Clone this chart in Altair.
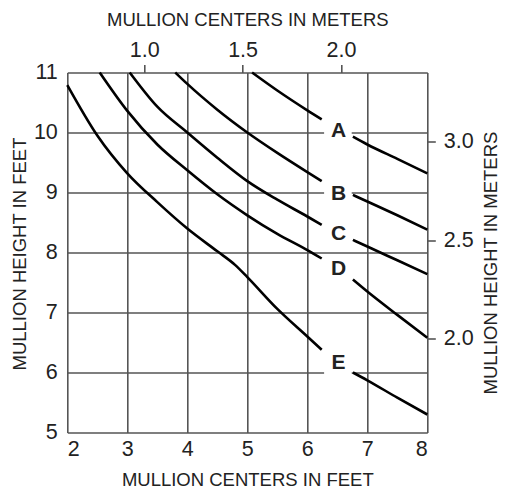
import altair as alt
import pandas as pd

FT_PER_M = 3.2808

# Axis ticks
x_ticks_ft = [2, 3, 4, 5, 6, 7, 8]
y_ticks_ft = [5, 6, 7, 8, 9, 10, 11]
top_ticks_m = [1.0, 1.5, 2.0]
right_ticks_m = [2.0, 2.5, 3.0]

# Curves, each split in two around its label
curve_names = ["A", "B", "C", "D", "E"]
A_left_x = [5.08, 5.5, 6.0, 6.24]
A_left_y = [11.0, 10.70, 10.37, 10.22]
A_right_x = [6.76, 7.0, 7.5, 8.0]
A_right_y = [9.93, 9.80, 9.56, 9.32]

B_left_x = [3.8, 4.0, 4.5, 5.0, 5.5, 6.0, 6.24]
B_left_y = [11.0, 10.81, 10.38, 10.0, 9.66, 9.34, 9.19]
B_right_x = [6.76, 7.0, 7.5, 8.0]
B_right_y = [8.96, 8.85, 8.62, 8.38]

C_left_x = [3.04, 3.5, 4.0, 4.5, 5.0, 5.5, 6.0, 6.24]
C_left_y = [11.0, 10.43, 10.0, 9.58, 9.19, 8.88, 8.6, 8.46]
C_right_x = [6.76, 7.0, 7.5, 8.0]
C_right_y = [8.21, 8.1, 7.87, 7.64]

D_left_x = [2.54, 3.0, 3.5, 4.0, 4.5, 5.0, 5.5, 6.0, 6.24]
D_left_y = [11.0, 10.36, 9.8, 9.37, 8.97, 8.62, 8.31, 8.04, 7.9]
D_right_x = [6.76, 7.0, 7.5, 8.0]
D_right_y = [7.55, 7.35, 6.96, 6.58]

E_left_x = [2.0, 2.5, 3.0, 3.5, 4.0, 4.5, 4.8, 5.0, 5.5, 6.0, 6.24]
E_left_y = [10.79, 9.95, 9.32, 8.84, 8.4, 8.02, 7.79, 7.59, 7.06, 6.6, 6.38]
E_right_x = [6.76, 7.0, 7.5, 8.0]
E_right_y = [6.0, 5.87, 5.58, 5.3]

label_x = [6.52, 6.52, 6.52, 6.52, 6.52]
label_y = [10.04, 9.0, 8.33, 7.74, 6.17]

segments = {
    "A": [(A_left_x, A_left_y), (A_right_x, A_right_y)],
    "B": [(B_left_x, B_left_y), (B_right_x, B_right_y)],
    "C": [(C_left_x, C_left_y), (C_right_x, C_right_y)],
    "D": [(D_left_x, D_left_y), (D_right_x, D_right_y)],
    "E": [(E_left_x, E_left_y), (E_right_x, E_right_y)],
}
rows = []
for name in curve_names:
    for i, (xs_, ys_) in enumerate(segments[name]):
        for k, (xv, yv) in enumerate(zip(xs_, ys_)):
            rows.append({"x": xv, "y": yv, "seg": f"{name}{i}", "order": k})
df = pd.DataFrame(rows)

lab = pd.DataFrame({"name": curve_names, "x": label_x, "y": label_y})
lab["x0"] = lab["x"] - 0.24
lab["x1"] = lab["x"] + 0.22
lab["y0"] = lab["y"] - 0.22
lab["y1"] = lab["y"] + 0.22

meter = pd.DataFrame({"xm": top_ticks_m, "ym": right_ticks_m})

FONT = "Liberation Sans"
GRID = "#555555"
TXT = "#222222"

xscale = alt.Scale(domain=[2, 8], nice=False, zero=False)
yscale = alt.Scale(domain=[5, 11], nice=False, zero=False)

xaxis = alt.Axis(values=x_ticks_ft, title="MULLION CENTERS IN FEET", orient="bottom",
                 grid=True, gridColor=GRID, gridWidth=1.6, gridOpacity=1,
                 ticks=False, domain=False, labelPadding=6,
                 titleY=53, titleBaseline="alphabetic")
yaxis = alt.Axis(values=y_ticks_ft, title="MULLION HEIGHT IN FEET", orient="left",
                 grid=True, gridColor=GRID, gridWidth=1.6, gridOpacity=1,
                 ticks=False, domain=False, labelPadding=10,
                 titleAngle=270, titleX=-42, titleY=181, titleBaseline="alphabetic")

rects = alt.Chart(lab).mark_rect(color="white").encode(
    x=alt.X("x0:Q", scale=xscale, axis=xaxis),
    x2="x1:Q",
    y=alt.Y("y0:Q", scale=yscale, axis=yaxis),
    y2="y1:Q",
)

curves = alt.Chart(df).mark_line(color="black", strokeWidth=2.6, interpolate="monotone").encode(
    x=alt.X("x:Q", scale=xscale, axis=xaxis),
    y=alt.Y("y:Q", scale=yscale, axis=yaxis),
    detail="seg:N",
    order="order:Q",
)

texts = alt.Chart(lab).mark_text(font=FONT, fontSize=21, fontWeight="bold", color=TXT,
                                 baseline="middle", dy=1).encode(
    x=alt.X("x:Q", scale=xscale, axis=xaxis),
    y=alt.Y("y:Q", scale=yscale, axis=yaxis),
    text="name:N",
)

ft_layer = alt.layer(rects, curves, texts)

meters = alt.Chart(meter).mark_point(opacity=0).encode(
    x=alt.X("xm:Q", scale=alt.Scale(domain=[2 / FT_PER_M, 8 / FT_PER_M], nice=False, zero=False),
            axis=alt.Axis(orient="top", values=top_ticks_m, format=".1f", title="MULLION CENTERS IN METERS",
                          grid=False, domain=False, ticks=True, tickSize=8, tickColor=GRID, tickWidth=1.6,
                          labelPadding=3, titleY=-47.3, titleBaseline="alphabetic")),
    y=alt.Y("ym:Q", scale=alt.Scale(domain=[5 / FT_PER_M, 11 / FT_PER_M], nice=False, zero=False),
            axis=alt.Axis(orient="right", values=right_ticks_m, format=".1f", title="MULLION HEIGHT IN METERS",
                          grid=False, domain=False, ticks=True, tickSize=8, tickColor=GRID, tickWidth=1.6,
                          labelPadding=8, titleAngle=270, titleX=69, titleY=190, titleBaseline="alphabetic")),
)

chart = alt.layer(ft_layer, meters).resolve_scale(x="independent", y="independent").properties(
    width=360, height=360,
    padding={"left": 59.3, "top": 64.5, "right": 73.7, "bottom": 57.5},
    autosize=alt.AutoSizeParams(type="none"),
).configure_axis(
    labelFont=FONT, labelFontSize=21.5, labelColor=TXT,
    titleFont=FONT, titleFontSize=18.5, titleColor=TXT, titleFontWeight="normal",
).configure_view(strokeWidth=0)

chart.save("out.html", embed_options={"renderer": "svg", "actions": False})
